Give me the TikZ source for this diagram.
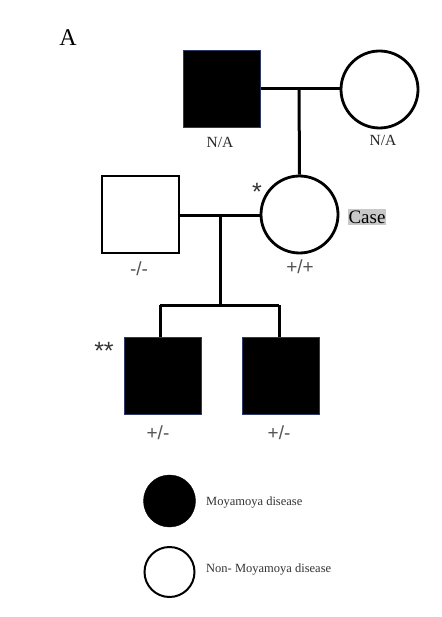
\documentclass[tikz,border=0pt]{standalone}
\usepackage{fontspec}
\setmainfont{Liberation Serif}
\newfontfamily\gsans{Liberation Sans}
\definecolor{edgeblue}{HTML}{2B3A67}
\definecolor{geno}{HTML}{555555}
\definecolor{casebg}{HTML}{C8C8C8}
\definecolor{legtxt}{HTML}{333333}
\begin{document}
\begin{tikzpicture}[x=1pt,y=-1pt,
  affected/.style={rectangle,minimum width=77pt,minimum height=77pt,inner sep=0,fill=black,draw=edgeblue,line width=0.8pt},
  unaffmale/.style={rectangle,minimum width=77pt,minimum height=77pt,inner sep=0,fill=white,draw=black,line width=2.8pt},
  female/.style={circle,minimum size=77pt,inner sep=0,fill=white,draw=black,line width=2.8pt},
  link/.style={draw=black,line width=3pt},
  na/.style={font=\fontsize{15.5}{17}\selectfont,text=black!85,inner sep=0},
  gt/.style={font=\gsans\fontsize{19}{21}\selectfont,text=geno,inner sep=0},
  star/.style={font=\gsans\fontsize{25}{27}\selectfont,text=black!80,inner sep=0},
  legtext/.style={font=\fontsize{12.5}{14}\selectfont,text=legtxt,anchor=west,inner sep=0}]
\useasboundingbox (0,0) rectangle (441,617);
\fill[white] (0,0) rectangle (441,617);
% panel label
\node[font=\fontsize{24}{26}\selectfont,inner sep=0] (lab) at (68,38) {A};
% generation I
\node[affected] (gf) at (222,88.5) {};
\node[female] (gm) at (379.5,89.5) {};
\coordinate (m1) at (299,89);
\draw[link] (gf.east |- m1) -- (gm.west |- m1);
% generation II
\node[unaffmale] (fa) at (140.5,214.5) {};
\node[female] (cs) at (299.5,214.5) {};
\draw[link] (m1) -- (cs.north);
\coordinate (m2) at (220,215.5);
\draw[link] (fa.east |- m2) -- (cs.west |- m2);
% generation III
\node[affected] (s1) at (162.5,376) {};
\node[affected] (s2) at (280.5,376) {};
\coordinate (sib) at (220,305);
\coordinate (j1) at (160,305);
\coordinate (j2) at (279,305);
\draw[link] (m2) -- (sib);
\draw[link] (j1) -- (j2);
\draw[link] (j1) -- (j1 |- s1.north);
\draw[link] (j2) -- (j2 |- s2.north);
% labels
\node[na] (na1) at (220,142) {N/A};
\node[na] (na2) at (383,140) {N/A};
\node[gt] (g1) at (139,269) {-/-};
\node[gt] (g2) at (300,267) {+/+};
\node[gt] (g3) at (158,433) {+/-};
\node[gt] (g4) at (279,433) {+/-};
\node[star] (st1) at (257,191.5) {*};
\node[star] (st2) at (104,350.5) {**};
\node[fill=casebg,font=\fontsize{19}{21}\selectfont,inner xsep=1pt,inner ysep=2pt] (case) at (367,217) {Case};
% legend
\node[circle,minimum size=52pt,inner sep=0,fill=black,draw=black] (l1) at (169.5,501) {};
\node[circle,minimum size=50pt,inner sep=0,fill=white,draw=black,line width=2pt] (l2) at (169.5,572) {};
\node[legtext] (t1) at (206,503) {Moyamoya disease};
\node[legtext] (t2) at (206,570) {Non- Moyamoya disease};
\end{tikzpicture}
\end{document}
